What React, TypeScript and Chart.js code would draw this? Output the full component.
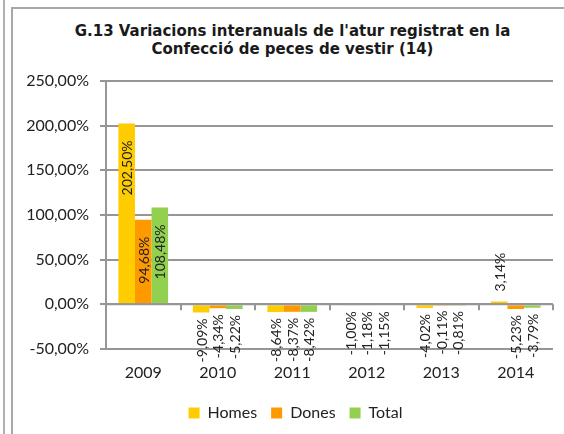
import React, { useEffect, useRef } from 'react';
import { Chart, registerables } from 'chart.js';

Chart.register(...registerables);

const titleLines = ["G.13 Variacions interanuals de l'atur registrat en la", 'Confecció de peces de vestir (14)'];
const years = ['2009', '2010', '2011', '2012', '2013', '2014'];
const seriesNames = ['Homes', 'Dones', 'Total'];
const homes = [202.5, -9.09, -8.64, -1.0, -4.02, 3.14];
const dones = [94.68, -4.34, -8.37, -1.18, -0.11, -5.23];
const total = [108.48, -5.22, -8.42, -1.15, -0.81, -3.79];
const seriesColors = ['#FFCC00', '#FF9900', '#92D050'];
const yMin = -50;
const yMax = 250;
const yStep = 50;

const fmt = (v: number) => v.toFixed(2).replace('.', ',') + '%';

const GRID = '#969696';
const TEXT = '#222222';

const legendShift = {
  id: 'legendShift',
  afterLayout(chart: any) {
    const l = chart.legend;
    if (l) {
      l.left += 9;
      l.right += 9;
    }
  },
};

const barLabels = {
  id: 'barLabels',
  afterDatasetsDraw(chart: any) {
    const { ctx, chartArea, scales } = chart;
    const xs = scales.x;
    const ys = scales.y;
    const y0 = ys.getPixelForValue(0);
    ctx.save();
    ctx.strokeStyle = GRID;
    ctx.lineWidth = 2;
    ctx.beginPath();
    ctx.moveTo(chartArea.left, y0);
    ctx.lineTo(chartArea.right, y0);
    const n = years.length;
    const cat = (chartArea.right - chartArea.left) / n;
    for (let i = 0; i <= n; i++) {
      const x = i < n ? xs.getPixelForValue(i) - cat / 2 : xs.getPixelForValue(n - 1) + cat / 2;
      const xr = Math.round(x);
      ctx.moveTo(xr, y0);
      ctx.lineTo(xr, y0 + 6);
    }
    ctx.stroke();
    ctx.restore();

    ctx.save();
    ctx.font = '14px Lato';
    ctx.fillStyle = TEXT;
    ctx.textBaseline = 'middle';
    ctx.textAlign = 'left';
    chart.data.datasets.forEach((ds: any, di: number) => {
      const meta = chart.getDatasetMeta(di);
      meta.data.forEach((bar: any, i: number) => {
        const v = ds.data[i] as number;
        const text = fmt(v);
        const w = ctx.measureText(text).width;
        const { x, y, base } = bar.getProps(['x', 'y', 'base'], true);
        let startY: number;
        if (v >= 0) {
          if (base - y > w + 30) startY = y + 17 + w;
          else startY = y - 10;
        } else {
          startY = y + 6 + w;
        }
        ctx.save();
        ctx.translate(x + 1, startY);
        ctx.rotate(-Math.PI / 2);
        ctx.fillText(text, 0, 0);
        ctx.restore();
      });
    });
    ctx.restore();
  },
};

export default function App() {
  const ref = useRef<HTMLCanvasElement>(null);
  useEffect(() => {
    if (!ref.current) return;
    const series = [homes, dones, total];
    const chart = new Chart(ref.current, {
      type: 'bar',
      data: {
        labels: years,
        datasets: series.map((d, i) => ({
          label: seriesNames[i],
          data: d,
          backgroundColor: seriesColors[i],
          borderWidth: 0,
          categoryPercentage: 0.667,
          barPercentage: 1,
        })),
      },
      options: {
        responsive: false,
        animation: false,
        layout: { padding: { left: 20, right: 11, top: 81, bottom: 3 } },
        plugins: {
          title: { display: false },
          tooltip: { enabled: false },
          legend: {
            position: 'bottom',
            labels: {
              boxWidth: 11,
              boxHeight: 11,
              padding: 14,
              color: TEXT,
              font: { family: 'Lato', size: 16 },
            },
          },
        },
        scales: {
          x: {
            grid: { display: false, drawTicks: false },
            border: { display: false },
            ticks: { color: TEXT, font: { family: 'Lato', size: 16 }, padding: 14, maxRotation: 0 },
            afterFit: (s: any) => {
              s.height = 42;
            },
          },
          y: {
            min: yMin,
            max: yMax,
            ticks: {
              stepSize: yStep,
              color: TEXT,
              padding: 11,
              font: { family: 'Lato', size: 16 },
              callback: (v: any) => fmt(Number(v)),
            },
            grid: { color: GRID, lineWidth: 2, tickLength: 6 },
            border: { color: GRID, width: 2 },
            afterFit: (s: any) => {
              s.width = 86;
            },
          },
        },
      },
      plugins: [barLabels, legendShift],
    });
    return () => chart.destroy();
  }, []);

  return (
    <div style={{ position: 'fixed', left: 0, top: 0, width: 564, height: 434, overflow: 'hidden', background: '#fff' }}>
      <div style={{ position: 'absolute', left: 3, top: 0, width: 2, height: 434, background: '#b0b0b0' }} />
      <div
        style={{
          position: 'absolute',
          left: 11,
          top: 7,
          width: 700,
          height: 600,
          border: '2px solid #a8a8a8',
          boxSizing: 'border-box',
        }}
      />
      <div
        style={{
          position: 'absolute',
          left: 0,
          top: 22,
          width: 585,
          textAlign: 'center',
          fontFamily: '"DejaVu Sans", Verdana, sans-serif',
          fontWeight: 'bold',
          fontSize: 15,
          lineHeight: '18px',
          color: '#1a1a1a',
          whiteSpace: 'nowrap',
        }}
      >
        {titleLines[0]}
        <br />
        {titleLines[1]}
      </div>
      <canvas ref={ref} width={564} height={434} style={{ position: 'absolute', left: 0, top: 0 }} />
    </div>
  );
}
